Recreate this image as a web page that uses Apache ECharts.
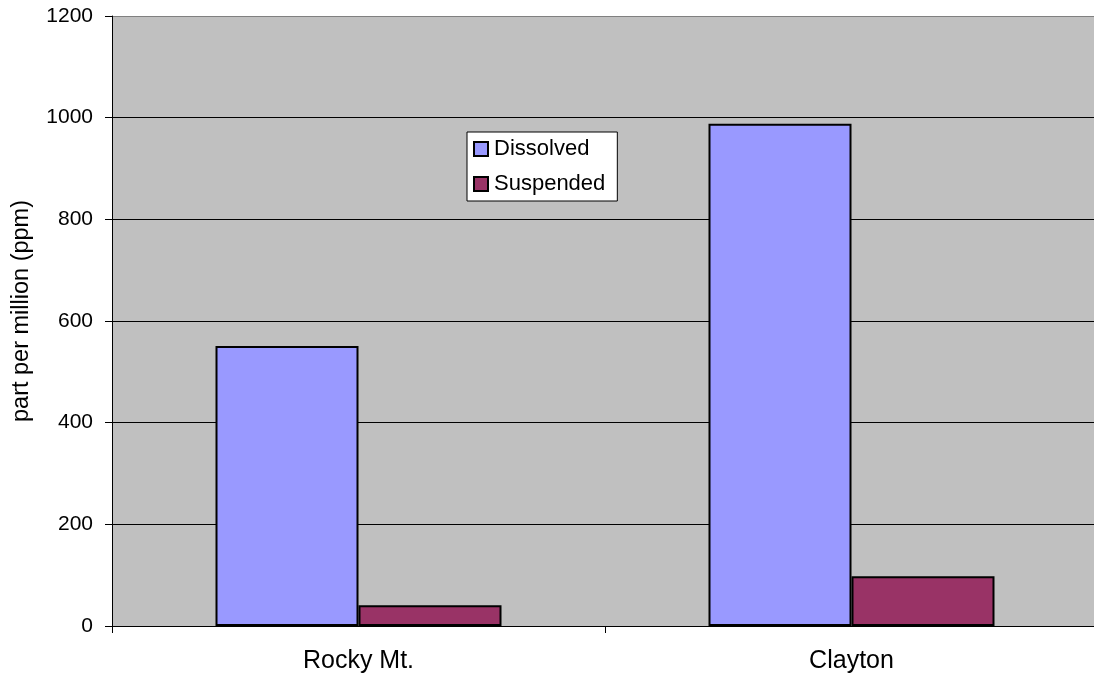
<!DOCTYPE html>
<html>
<head>
<meta charset="utf-8">
<script src="https://cdn.jsdelivr.net/npm/echarts@6/dist/echarts.min.js"></script>
<style>
html,body{margin:0;padding:0;background:#fff;overflow:hidden;}
#chart{width:1098px;height:681px;}
</style>
</head>
<body>
<div id="chart"></div>
<script>
// Sites and measured concentrations (ppm)
const sites = ['Rocky Mt.', 'Clayton'];
const dissolved = [551, 988];
const suspended = [41, 98];
const yTicks = [0, 200, 400, 600, 800, 1000, 1200];

const font = 'Liberation Sans, Arial, sans-serif';
const chart = echarts.init(document.getElementById('chart'));

chart.setOption({
  backgroundColor: '#ffffff',
  animation: false,
  textStyle: { fontFamily: font },
  grid: {
    left: 112, top: 16, width: 986, height: 610,
    show: true, backgroundColor: '#c0c0c0', borderWidth: 0
  },
  legend: {
    left: 467, top: 132,
    orient: 'vertical',
    backgroundColor: '#ffffff',
    borderColor: '#000000',
    borderWidth: 1,
    padding: [6, 12, 6, 6],
    itemGap: 13,
    itemWidth: 14, itemHeight: 14,
    icon: 'rect',
    itemStyle: { borderColor: '#000', borderWidth: 2 },
    textStyle: { fontFamily: font, fontSize: 22, lineHeight: 22, color: '#000', padding: [0, 0, 0, 1] },
    data: ['Dissolved', 'Suspended']
  },
  xAxis: {
    type: 'category',
    data: sites,
    axisLine: { lineStyle: { color: '#000', width: 1 } },
    axisTick: { show: true, length: 7, alignWithLabel: false, lineStyle: { color: '#000' } },
    axisLabel: { fontFamily: font, fontSize: 25, color: '#000', margin: 23 },
    splitLine: { show: false }
  },
  yAxis: {
    type: 'value',
    min: yTicks[0], max: yTicks[yTicks.length - 1], interval: 200,
    name: 'part per million (ppm)',
    nameLocation: 'middle',
    nameGap: 78,
    nameRotate: 90,
    nameTextStyle: { fontFamily: font, fontSize: 23.5, color: '#000', padding: [0, 0, 0, 20] },
    axisLine: { show: true, lineStyle: { color: '#000', width: 1 } },
    axisTick: { show: true, length: 7, lineStyle: { color: '#000' } },
    axisLabel: {
      fontFamily: font, fontSize: 21, color: '#000', margin: 19,
      formatter: v => String(v)
    },
    splitLine: {
      show: true,
      lineStyle: { color: ['#000', '#000', '#000', '#000', '#000', '#000', '#808080'], width: 1 }
    }
  },
  series: [
    {
      name: 'Dissolved', type: 'bar', data: dissolved,
      barGap: '0%', barWidth: 143,
      itemStyle: { color: '#9999ff', borderColor: '#000', borderWidth: 2 }
    },
    {
      name: 'Suspended', type: 'bar', data: suspended,
      barGap: '0%', barWidth: 143,
      itemStyle: { color: '#993366', borderColor: '#000', borderWidth: 2 }
    }
  ]
});
</script>
</body>
</html>
